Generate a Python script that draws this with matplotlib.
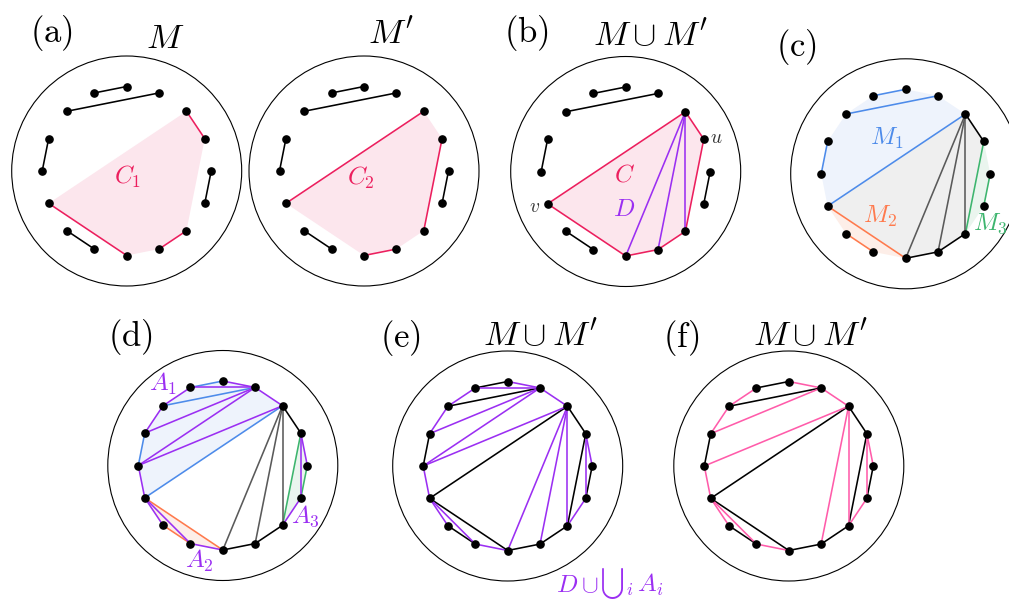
import numpy as np
import matplotlib
matplotlib.use('Agg')
import matplotlib.pyplot as plt
from matplotlib.patches import Circle, Polygon

plt.rcParams['mathtext.fontset'] = 'cm'
plt.rcParams['font.family'] = ['DejaVu Serif']

# ---------------- data ----------------
N_VERTICES = 16
M_edges = [(15, 0), (14, 1), (13, 12), (10, 9), (4, 5), (2, 3), (11, 8), (7, 6)]
Mp_edges = [(15, 0), (14, 1), (13, 12), (10, 9), (4, 5), (2, 11), (3, 6), (8, 7)]
common_edges = [(15, 0), (14, 1), (13, 12), (10, 9), (4, 5)]
C_red_M = [(2, 3), (11, 8), (7, 6)]
C_red_Mp = [(2, 11), (3, 6), (8, 7)]
C_cycle = [11, 2, 3, 6, 7, 8]
D_edges = [(2, 8), (2, 7), (2, 6)]
M1_edges = [(15, 0), (14, 1), (13, 12), (11, 2)]
M1_region = [11, 12, 13, 14, 15, 0, 1, 2]
M2_edges = [(10, 9), (11, 8)]
M2_region = [11, 10, 9, 8]
M3_edges = [(3, 6), (4, 5)]
M3_region = [3, 4, 5, 6]
C_black_c = [(2, 3), (6, 7), (7, 8)]
A1_edges = [(0, 1), (15, 1), (15, 14), (14, 13), (13, 1), (12, 1), (12, 2), (1, 2), (12, 11)]
A2_edges = [(11, 10), (11, 9), (9, 8)]
A3_edges = [(3, 4), (3, 5), (5, 6)]
union_edges = [(15, 0), (14, 1), (13, 12), (10, 9), (4, 5), (2, 3), (11, 8), (7, 6),
               (2, 11), (3, 6), (8, 7)]
F_pink_edges = [(0, 1), (1, 2), (15, 14), (14, 13), (13, 1), (12, 2), (12, 11), (11, 10),
                (11, 9), (9, 8), (2, 7), (2, 6), (3, 4), (3, 5), (5, 6)]

# ---------------- style ----------------
RED = '#EC1F5E'
RED_FILL = '#FCE6ED'
PURPLE = '#9B2FF2'
BLUE = '#4D8BEA'
BLUE_FILL = '#EEF3FC'
ORANGE = '#FF7A4D'
ORANGE_FILL = '#FDEEE8'
GREEN = '#3DB56E'
GREEN_FILL = '#EAF5EE'
GRAY = '#5A5A5A'
GRAY_FILL = '#EFEFEF'
PINK = '#FF5CAA'
LW = 1.15
R_OUT = 115
R_IN = 84.5

fig = plt.figure(figsize=(10.09, 6.04), dpi=100)
ax = fig.add_axes([0, 0, 1, 1])
ax.set_xlim(0, 1009)
ax.set_ylim(604, 0)
ax.set_aspect('equal')
ax.axis('off')


def verts(c):
    k = np.arange(N_VERTICES)
    th = 2 * np.pi * k / N_VERTICES
    return np.column_stack([c[0] + R_IN * np.sin(th), c[1] - R_IN * np.cos(th)])


def circle(c):
    ax.add_patch(Circle(c, R_OUT, fill=False, ec='black', lw=0.8, zorder=1))


def edges(P, E, color, lw=LW, z=3):
    for a, b in E:
        ax.plot([P[a, 0], P[b, 0]], [P[a, 1], P[b, 1]], color=color, lw=lw,
                solid_capstyle='round', zorder=z)


def region(P, idx, color):
    ax.add_patch(Polygon(P[idx], closed=True, fc=color, ec='none', zorder=2))


def dots(P):
    ax.plot(P[:, 0], P[:, 1], 'o', color='black', ms=5.2, zorder=6)


def txt(x, y, s, size, color='black'):
    ax.text(x, y, s, fontsize=size, color=color, ha='center', va='center', zorder=7)


# ---------- panel (a) left: M ----------
c = (126.7, 171)
P = verts(c)
circle(c)
region(P, C_cycle, RED_FILL)
edges(P, common_edges, 'black')
edges(P, C_red_M, RED)
dots(P)
txt(128, 177, r'$C_1$', 18, RED)

# ---------- panel (a) right: M' ----------
c = (364, 171)
P = verts(c)
circle(c)
region(P, C_cycle, RED_FILL)
edges(P, common_edges, 'black')
edges(P, C_red_Mp, RED)
dots(P)
txt(361, 178, r'$C_2$', 18, RED)

# ---------- panel (b) ----------
c = (625.7, 171.5)
P = verts(c)
circle(c)
region(P, C_cycle, RED_FILL)
edges(P, common_edges, 'black')
edges(P, C_red_M + C_red_Mp, RED)
edges(P, D_edges, PURPLE)
dots(P)
txt(624, 175, r'$C$', 18, RED)
txt(624, 210, r'$D$', 18, PURPLE)
txt(716, 138, r'$u$', 14, '#333333')
txt(535, 207, r'$v$', 14, '#333333')

# ---------- panel (c) ----------
c = (905.7, 173.8)
P = verts(c)
circle(c)
region(P, M1_region, BLUE_FILL)
region(P, M2_region, ORANGE_FILL)
region(P, M3_region, GREEN_FILL)
region(P, C_cycle, GRAY_FILL)
edges(P, M1_edges, BLUE)
edges(P, M2_edges, ORANGE)
edges(P, M3_edges, GREEN)
edges(P, C_black_c, 'black')
edges(P, D_edges, GRAY)
dots(P)
txt(887, 138, r'$M_1$', 18, BLUE)
txt(880, 216, r'$M_2$', 18, ORANGE)
txt(990, 224, r'$M_3$', 18, GREEN)

# ---------- panel (d) ----------
c = (222.8, 465.5)
P = verts(c)
circle(c)
region(P, M1_region, BLUE_FILL)
region(P, M2_region, ORANGE_FILL)
region(P, M3_region, GREEN_FILL)
edges(P, M1_edges, BLUE)
edges(P, M2_edges, ORANGE)
edges(P, M3_edges, GREEN)
edges(P, C_black_c, 'black')
edges(P, D_edges, GRAY)
edges(P, A1_edges + A2_edges + A3_edges, PURPLE, z=4)
dots(P)
txt(163, 384, r'$A_1$', 18, PURPLE)
txt(199, 561, r'$A_2$', 18, PURPLE)
txt(305, 516, r'$A_3$', 18, PURPLE)

# ---------- panel (e) ----------
c = (507.7, 466)
P = verts(c)
circle(c)
edges(P, union_edges, 'black')
edges(P, D_edges + A1_edges + A2_edges + A3_edges, PURPLE, z=4)
dots(P)

# label D ∪ ⋃_i A_i built from pieces so the big union stays moderate
renderer = fig.canvas.get_renderer()
x0, base = 556, 592
pieces = [(r'$D\cup$', 18, 0, 2.0), (r'$\bigcup$', 15, -1, 0.5), (r'${}_i\,A_i$', 18, 0, 0)]
xcur = x0
inv = ax.transData.inverted()
for s, fs, dy, gap in pieces:
    t = ax.text(xcur, base + dy, s, fontsize=fs, color=PURPLE, ha='left',
                va='baseline', zorder=7)
    bb = t.get_window_extent(renderer=renderer)
    (xa, _), (xb, _) = inv.transform([[bb.x0, bb.y0], [bb.x1, bb.y1]])
    xcur = xb + gap

# ---------- panel (f) ----------
c = (788.8, 466)
P = verts(c)
circle(c)
edges(P, union_edges, 'black')
edges(P, F_pink_edges, PINK, z=4)
dots(P)

# ---------- titles ----------
txt(51, 33, r'$\mathrm{(a)}$', 25)
txt(165, 38, r'$M$', 25)
txt(391, 33, r"$M'$", 25)
txt(526, 33, r'$\mathrm{(b)}$', 25)
txt(650, 35, r"$M\cup M'$", 25)
txt(797, 47, r'$\mathrm{(c)}$', 25)
txt(130, 337, r'$\mathrm{(d)}$', 25)
txt(401, 338, r'$\mathrm{(e)}$', 25)
txt(540, 335, r"$M\cup M'$", 25)
txt(681, 338, r'$\mathrm{(f)}$', 25)
txt(810, 335, r"$M\cup M'$", 25)

fig.savefig('out.png', dpi=100)
